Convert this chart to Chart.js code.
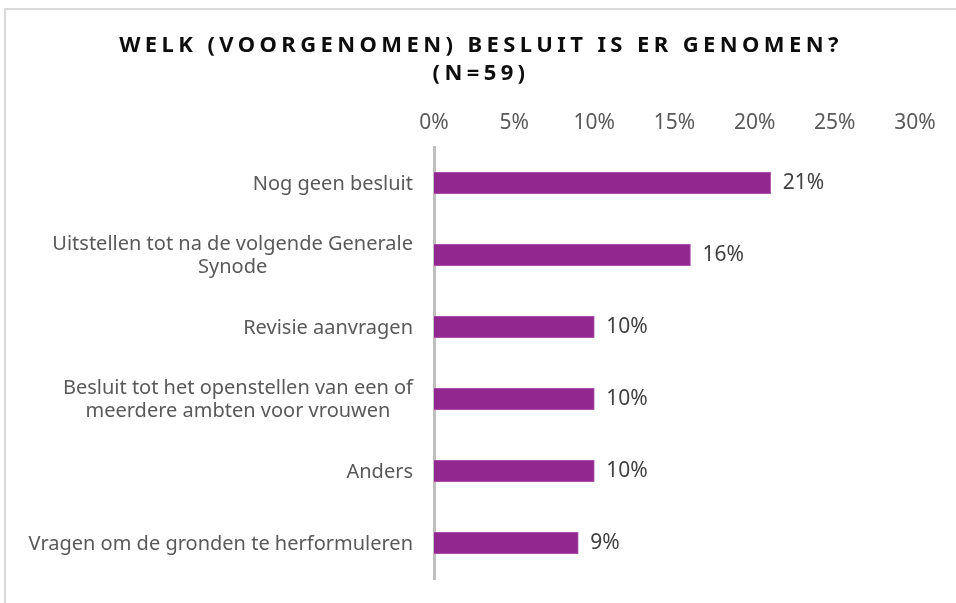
<!DOCTYPE html>
<html>
<head>
    <title>Welk (voorgenomen) besluit is er genomen?</title>
    <script src="https://cdn.jsdelivr.net/npm/chart.js"></script>
    <style>
        body { margin: 0; background: #fff; overflow: hidden; }
        #frame { position: absolute; left: 4px; top: 8px; width: 1100px; height: 800px; border: 2px solid #d9d9d9; }
        #wrap { position: absolute; left: 0; top: 0; width: 956px; height: 603px; }
    </style>
</head>
<body>
    <div id="frame"></div>
    <div id="wrap"><canvas id="besluitChart" width="956" height="603"></canvas></div>

    <script>
    const titleLines = ['WELK (VOORGENOMEN) BESLUIT IS ER GENOMEN?', '(N=59)'];
    const categories = [
        ['Nog geen besluit'],
        ['Uitstellen tot na de volgende Generale', 'Synode'],
        ['Revisie aanvragen'],
        ['Besluit tot het openstellen van een of', 'meerdere ambten voor vrouwen'],
        ['Anders'],
        ['Vragen om de gronden te herformuleren']
    ];
    const percentages = [21, 16, 10, 10, 10, 9];
    const tickValues = [0, 5, 10, 15, 20, 25, 30];

    const FONT = '"Noto Sans", sans-serif';

    // title with wide letter spacing
    const titlePlugin = {
        id: 'spacedTitle',
        afterDraw(chart) {
            const ctx = chart.ctx;
            ctx.save();
            ctx.font = 'bold 22px ' + FONT;
            ctx.fillStyle = '#0d0d0d';
            ctx.textAlign = 'center';
            ctx.textBaseline = 'middle';
            ctx.letterSpacing = '4.4px';
            ctx.fillText(titleLines[0], 481, 46);
            ctx.fillText(titleLines[1], 481, 74);
            ctx.restore();
        }
    };

    // category labels: block right aligned to the axis, lines centred in the block
    const catLabelPlugin = {
        id: 'catLabels',
        afterDraw(chart) {
            const ctx = chart.ctx;
            const y = chart.scales.y;
            ctx.save();
            ctx.font = '20px ' + FONT;
            ctx.fillStyle = '#595959';
            ctx.textAlign = 'center';
            ctx.textBaseline = 'middle';
            const right = y.right - 21;
            const lh = 23;
            categories.forEach((lines, i) => {
                const cy = y.getPixelForTick(i);
                const w = Math.max(...lines.map(l => ctx.measureText(l).width));
                const cx = right - w / 2;
                lines.forEach((l, j) => {
                    ctx.fillText(l, cx, cy + 1 + (j - (lines.length - 1) / 2) * lh);
                });
            });
            ctx.restore();
        }
    };

    // value labels at the end of each bar
    const valueLabelPlugin = {
        id: 'valueLabels',
        afterDatasetsDraw(chart) {
            const ctx = chart.ctx;
            const meta = chart.getDatasetMeta(0);
            ctx.save();
            ctx.font = '21px ' + FONT;
            ctx.fillStyle = '#404040';
            ctx.textAlign = 'left';
            ctx.textBaseline = 'middle';
            meta.data.forEach((bar, i) => {
                ctx.fillText(percentages[i] + '%', bar.x + 12, bar.y);
            });
            ctx.restore();
        }
    };

    const besluitChart = new Chart(document.getElementById('besluitChart').getContext('2d'), {
        type: 'bar',
        data: {
            labels: categories,
            datasets: [{
                data: percentages,
                backgroundColor: '#92278f',
                borderColor: '#b35fb0',
                borderWidth: 1,
                barThickness: 22
            }]
        },
        options: {
            indexAxis: 'y',
            responsive: false,
            animation: false,
            layout: { padding: { top: 95, right: 41, bottom: 24, left: 0 } },
            plugins: {
                legend: { display: false },
                tooltip: { enabled: false },
                title: { display: false }
            },
            scales: {
                x: {
                    position: 'top',
                    min: 0,
                    max: 30,
                    afterFit: s => { s.height = 52; },
                    afterBuildTicks: s => { s.ticks = tickValues.map(v => ({ value: v })); },
                    grid: { display: false, drawTicks: false },
                    border: { display: false },
                    ticks: {
                        padding: 11,
                        color: '#595959',
                        font: { family: FONT, size: 21 },
                        callback: v => v + '%'
                    }
                },
                y: {
                    afterFit: s => { s.width = 434; },
                    grid: { display: false, drawTicks: false },
                    border: { display: true, color: '#bfbfbf', width: 3 },
                    ticks: { display: false }
                }
            }
        },
        plugins: [titlePlugin, catLabelPlugin, valueLabelPlugin]
    });
    </script>
</body>
</html>
